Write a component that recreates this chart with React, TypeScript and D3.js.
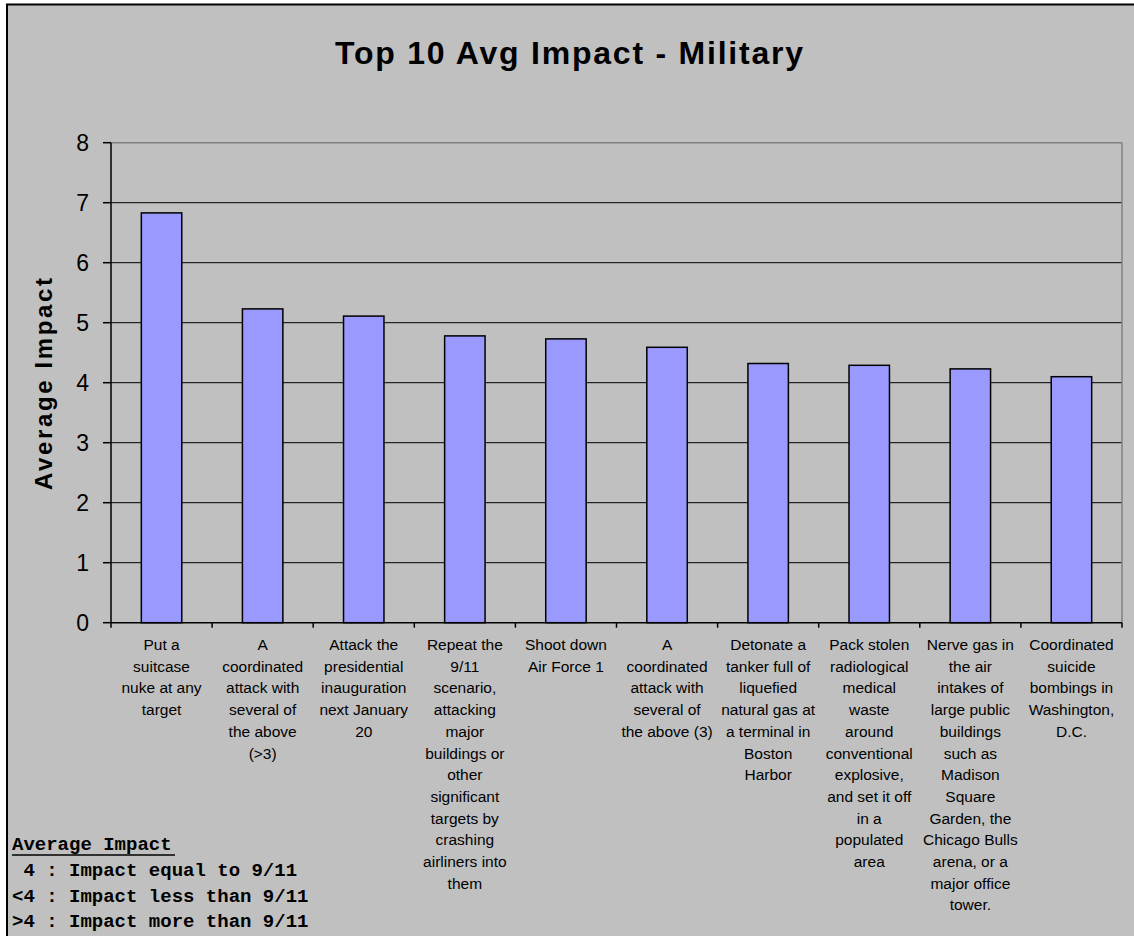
import React from "react";
import * as d3 from "d3";

const categories: string[][] = [
  ["Put a", "suitcase", "nuke at any", "target"],
  ["A", "coordinated", "attack with", "several of", "the above", "(>3)"],
  ["Attack the", "presidential", "inauguration", "next January", "20"],
  ["Repeat the", "9/11", "scenario,", "attacking", "major", "buildings or", "other", "significant", "targets by", "crashing", "airliners into", "them"],
  ["Shoot down", "Air Force 1"],
  ["A", "coordinated", "attack with", "several of", "the above (3)"],
  ["Detonate a", "tanker full of", "liquefied", "natural gas at", "a terminal in", "Boston", "Harbor"],
  ["Pack stolen", "radiological", "medical", "waste", "around", "conventional", "explosive,", "and set it off", "in a", "populated", "area"],
  ["Nerve gas in", "the air", "intakes of", "large public", "buildings", "such as", "Madison", "Square", "Garden, the", "Chicago Bulls", "arena, or a", "major office", "tower."],
  ["Coordinated", "suicide", "bombings in", "Washington,", "D.C."],
];

const values: number[] = [6.83, 5.23, 5.11, 4.78, 4.73, 4.59, 4.32, 4.29, 4.23, 4.1];

const yTicks: number[] = [0, 1, 2, 3, 4, 5, 6, 7, 8];

const title = "Top 10 Avg Impact - Military";
const yTitle = "Average Impact";
const legendTitle = "Average Impact";
const legendLines: string[] = [
  " 4 : Impact equal to 9/11",
  "<4 : Impact less than 9/11",
  ">4 : Impact more than 9/11",
];

const W = 1134;
const H = 936;
const plot = { left: 111, right: 1122, top: 142.7, bottom: 622.7 };
const sans = "'Liberation Sans', Arial, Helvetica, sans-serif";
const mono = "'Courier New', 'Liberation Mono', monospace";

export default function App() {
  const idx = categories.map((_, i) => String(i));
  const x = d3
    .scaleBand<string>()
    .domain(idx)
    .range([plot.left, plot.right])
    .paddingInner(0.6)
    .paddingOuter(0.3);
  const step = x.step();
  const y = d3.scaleLinear().domain([0, 8]).range([plot.bottom, plot.top]);

  const boundaries = d3.range(categories.length + 1).map((k) => plot.left + k * step);

  return (
    <svg
      width={W}
      height={H}
      style={{ position: "absolute", left: 0, top: 0, background: "#fff" }}
    >
      <rect x={0} y={0} width={W} height={H} fill="#ffffff" />
      <rect x={7} y={4.5} width={W + 20} height={H + 20} fill="#c0c0c0" stroke="#000" strokeWidth={2} />

      <text
        x={569}
        y={64}
        textAnchor="middle"
        fontFamily={sans}
        fontWeight="bold"
        fontSize={32}
        textLength={468}
        lengthAdjust="spacing"
        fill="#000"
      >
        {title}
      </text>

      {/* gridlines */}
      {yTicks
        .filter((t) => t > 0 && t < 8)
        .map((t) => (
          <line
            key={"g" + t}
            x1={plot.left}
            x2={plot.right}
            y1={y(t)}
            y2={y(t)}
            stroke="#000"
            strokeWidth={1}
          />
        ))}
      {/* plot area frame top/right */}
      <line x1={plot.left} x2={plot.right} y1={y(8)} y2={y(8)} stroke="#808080" strokeWidth={1.5} />
      <line x1={plot.right} x2={plot.right} y1={y(8)} y2={plot.bottom} stroke="#808080" strokeWidth={1.5} />

      {/* bars */}
      {values.map((v, i) => (
        <rect
          key={"b" + i}
          x={x(String(i))}
          y={y(v)}
          width={x.bandwidth()}
          height={y(0) - y(v)}
          fill="#9999ff"
          stroke="#000"
          strokeWidth={1.5}
        />
      ))}

      {/* y axis */}
      <line x1={plot.left} x2={plot.left} y1={y(8)} y2={y(0)} stroke="#000" strokeWidth={1.5} />
      {yTicks.map((t) => (
        <g key={"yt" + t}>
          <line x1={plot.left - 8} x2={plot.left} y1={y(t)} y2={y(t)} stroke="#000" strokeWidth={1.5} />
          <text
            x={89}
            y={y(t)}
            dy="0.36em"
            textAnchor="end"
            fontFamily={sans}
            fontSize={23}
            fill="#000"
          >
            {t}
          </text>
        </g>
      ))}
      <text
        transform={`translate(52, 384) rotate(-90)`}
        textAnchor="middle"
        fontFamily={sans}
        fontWeight="bold"
        fontSize={24}
        textLength={212}
        lengthAdjust="spacing"
        fill="#000"
      >
        {yTitle}
      </text>

      {/* x axis */}
      <line x1={plot.left} x2={plot.right} y1={y(0)} y2={y(0)} stroke="#000" strokeWidth={1.5} />
      {boundaries.map((bx, k) => (
        <line key={"xt" + k} x1={bx} x2={bx} y1={y(0)} y2={y(0) + 5} stroke="#000" strokeWidth={1.5} />
      ))}
      {categories.map((lines, i) => {
        const cx = (x(String(i)) as number) + x.bandwidth() / 2;
        return (
          <text
            key={"c" + i}
            textAnchor="middle"
            fontFamily={sans}
            fontSize={15.5}
            fill="#000"
          >
            {lines.map((ln, j) => (
              <tspan key={j} x={cx} y={650 + j * 21.7}>
                {ln}
              </tspan>
            ))}
          </text>
        );
      })}

      {/* legend */}
      <text x={12} y={850} fontFamily={mono} fontWeight="bold" fontSize={19} fill="#000">
        {legendTitle}
      </text>
      <line x1={12} x2={175} y1={855} y2={855} stroke="#000" strokeWidth={1.5} />
      {legendLines.map((ln, i) => (
        <text
          key={"l" + i}
          x={12}
          y={876 + i * 25.7}
          fontFamily={mono}
          fontWeight="bold"
          fontSize={19}
          fill="#000"
          style={{ whiteSpace: "pre" }}
        >
          {ln}
        </text>
      ))}
    </svg>
  );
}
